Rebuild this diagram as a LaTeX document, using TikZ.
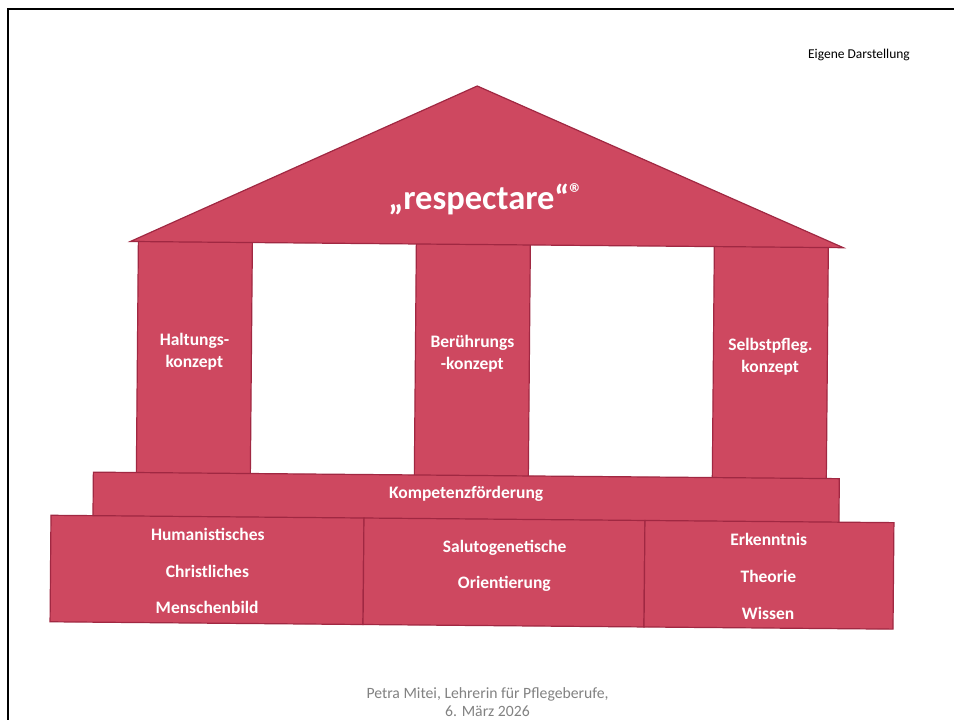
\documentclass[tikz,border=0pt]{standalone}
\usepackage{fontspec}
\setmainfont{Carlito}
\definecolor{fillred}{RGB}{206,72,96}
\definecolor{edgered}{RGB}{160,40,66}
\definecolor{footgray}{RGB}{130,130,130}
\begin{document}
\begin{tikzpicture}[x=1pt,y=-1pt,
  block/.style={fill=fillred,draw=edgered,line width=1.2pt,line join=miter},
  lbl/.style={text=white,font=\fontsize{17.5}{21}\selectfont\bfseries,anchor=base,inner sep=0pt},
  pagetext/.style={anchor=base,inner sep=0pt}
]
\useasboundingbox (0,0) rectangle (954,720);
\fill[white] (0,0) rectangle (954,720);
\draw[line width=2pt] (8,720) -- (8,9) -- (954,9);
\node[pagetext,font=\fontsize{13.5}{16}\selectfont] (src) at (859,58) {Eigene Darstellung};
\node[pagetext,text=footgray,font=\fontsize{15.7}{19}\selectfont] (foot1) at (487.5,698.5) {Petra Mitei, Lehrerin für Pflegeberufe,};
\node[pagetext,text=footgray,font=\fontsize{15.7}{19}\selectfont] (foot2) at (487.5,716.5) {6. März 2026};
\begin{scope}[rotate around={-0.5:(477,400)}]
  % pillars
  \path[block] (137,244) rectangle (251,477);
  \path[block] (415,244) rectangle (529,477);
  \path[block] (713,244) rectangle (827,477);
  % roof
  \path[block] (474.5,86) -- (842,244.5) -- (129,244.5) -- cycle;
  % Kompetenz bar
  \path[block] (94,475.5) rectangle (840,519.5);
  % foundation
  \path[block] (52,519) rectangle (365,625.5);
  \path[block] (365,519) rectangle (646,625.5);
  \path[block] (646,519) rectangle (895,625.5);
  % texts
  \node[lbl,font=\fontsize{34.5}{38}\selectfont\bfseries] (roof) at (484,209) {„respectare“\raisebox{0.2em}{\fontsize{27}{27}\selectfont ®}};
  \node[lbl] (p1a) at (194,347.5) {Haltungs-};
  \node[lbl] (p1b) at (194,369.5) {konzept};
  \node[lbl] (p2a) at (472,347.5) {Berührungs};
  \node[lbl] (p2b) at (472,369.5) {-konzept};
  \node[lbl] (p3a) at (770,347.5) {Selbstpfleg.};
  \node[lbl] (p3b) at (770,369.5) {konzept};
  \node[lbl] (bar) at (467,499) {Kompetenzförderung};
  \node[lbl] (f1a) at (209,543) {Humanistisches};
  \node[lbl] (f1b) at (209,579.7) {Christliches};
  \node[lbl] (f1c) at (209,616.3) {Menschenbild};
  \node[lbl] (f2a) at (506,552.4) {Salutogenetische};
  \node[lbl] (f2b) at (506,588.7) {Orientierung};
  \node[lbl] (f3a) at (770,543.4) {Erkenntnis};
  \node[lbl] (f3b) at (770,580) {Theorie};
  \node[lbl] (f3c) at (770,616.7) {Wissen};
\end{scope}
\end{tikzpicture}
\end{document}
